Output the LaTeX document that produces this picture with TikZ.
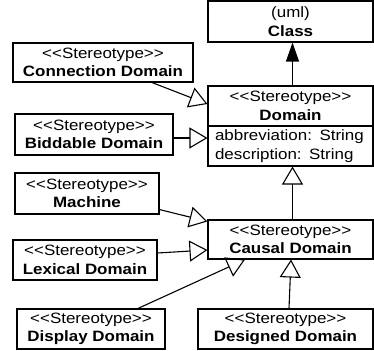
\documentclass[tikz,border=0pt]{standalone}
\usepackage{fontspec}
\newfontfamily\umlfont{Liberation Sans}[FakeStretch=1.13]
\usetikzlibrary{arrows.meta}
\newcommand\stereo{<\kern0pt<Stereotype>\kern0pt>}
\begin{document}
\begin{tikzpicture}[x=1pt,y=-1pt,
  umltext/.style={font=\umlfont\fontsize{15pt}{18.5pt}\selectfont},
  cls/.style={draw, line width=1.1pt, rectangle, inner sep=0pt, align=center,
    umltext},
  attrs/.style={draw, line width=1.1pt, rectangle, inner ysep=0pt, inner xsep=7pt,
    align=left, text width=151pt, minimum height=40pt, umltext},
  gen/.style={line width=1.1pt, -{Triangle[open, length=18pt, width=21pt, line width=1.1pt]}},
  assoc/.style={line width=1.1pt, -{Triangle[length=19pt, width=13pt]}}]
\useasboundingbox (0,0) rectangle (374,350);

% classes
\node[cls, minimum width=165pt, minimum height=41pt] (class) at (290.5,21.5)
  {(uml)\\ \textbf{Class}};
\node[cls, minimum width=165pt, minimum height=40pt] (domhead) at (290.5,106)
  {\stereo\\ \textbf{Domain}};
\node[attrs] (domattr) at (290.5,146)
  {abbreviation: String\\ description: String};
\node[cls, minimum width=180pt, minimum height=39pt] (conn) at (103,62.5)
  {\stereo\\ \textbf{Connection Domain}};
\node[cls, minimum width=158pt, minimum height=41pt] (bidd) at (94,134.5)
  {\stereo\\ \textbf{Biddable Domain}};
\node[cls, minimum width=144pt, minimum height=41pt] (mach) at (87,193.5)
  {\stereo\\ \textbf{Machine}};
\node[cls, minimum width=144pt, minimum height=40pt] (lex) at (85,260)
  {\stereo\\ \textbf{Lexical Domain}};
\node[cls, minimum width=165pt, minimum height=39pt] (causal) at (290.5,239.5)
  {\stereo\\ \textbf{Causal Domain}};
\node[cls, minimum width=148pt, minimum height=40pt] (disp) at (91,329)
  {\stereo\\ \textbf{Display Domain}};
\node[cls, minimum width=175pt, minimum height=40pt] (des) at (285.5,329)
  {\stereo\\ \textbf{Designed Domain}};

% generalisations and the link to the UML metaclass
\draw[assoc] ([xshift=2pt]domhead.north) -- ([xshift=2pt]class.south);
\draw[gen] ([xshift=49pt]conn.south) -- ([yshift=2pt]domhead.west);
\draw[gen] ([yshift=-3.5pt]bidd.east) -- ([yshift=8pt]domattr.west);
\draw[gen] ([xshift=2pt]causal.north) -- ([xshift=2pt]domattr.south);
\draw[gen] ([yshift=5pt]mach.south east) -- ([yshift=-2pt]causal.north west);
\draw[gen] ([yshift=7pt]lex.east) -- ([yshift=-10.5pt]causal.west);
\draw[gen] ([xshift=47pt]disp.north) -- ([xshift=-45.5pt]causal.south);
\draw[gen] ([xshift=3.5pt]des.north) -- ([xshift=0.5pt]causal.south);
\end{tikzpicture}
\end{document}
